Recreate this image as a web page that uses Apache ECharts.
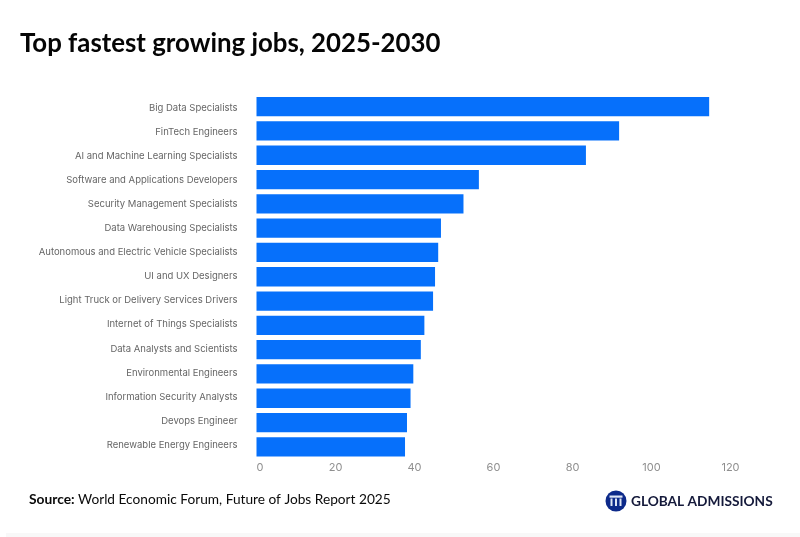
<!DOCTYPE html>
<html>
<head>
<meta charset="utf-8">
<style>
html, body { margin: 0; padding: 0; background: #fff; }
#chart { width: 800px; height: 537px; }
</style>
<script src="https://cdn.jsdelivr.net/npm/echarts@6/dist/echarts.min.js"></script>
</head>
<body>
<div id="chart"></div>
<script>
const jobs = [
    'Big Data Specialists', 'FinTech Engineers', 'AI and Machine Learning Specialists',
    'Software and Applications Developers', 'Security Management Specialists',
    'Data Warehousing Specialists', 'Autonomous and Electric Vehicle Specialists',
    'UI and UX Designers', 'Light Truck or Delivery Services Drivers',
    'Internet of Things Specialists', 'Data Analysts and Scientists',
    'Environmental Engineers', 'Information Security Analysts',
    'Devops Engineer', 'Renewable Energy Engineers'
];
const growth = [114.6, 91.8, 83.4, 56.3, 52.4, 46.7, 46, 45.2, 44.7, 42.5, 41.6, 39.7, 39, 38.1, 37.6];
const titleText = 'Top fastest growing jobs, 2025-2030';
const sourceLabel = 'Source:';
const sourceText = 'World Economic Forum, Future of Jobs Report 2025';
const brandText = 'GLOBAL ADMISSIONS';

const chart = echarts.init(document.getElementById('chart'), null, { renderer: 'canvas' });

chart.setOption({
    backgroundColor: '#fff',
    animation: false,
    grid: [
        { left: 256.5, top: 94.5, width: 474, height: 364.5 },
        // labels sit on a slightly tighter pitch than the bars in the reference
        { left: 256.5, top: 96, width: 474, height: 361 }
    ],
    xAxis: [
        {
            type: 'value', min: 0, max: 120, interval: 20,
            axisLine: { show: false }, axisTick: { show: false }, splitLine: { show: false },
            axisLabel: { color: '#8f8f8f', fontFamily: 'Inter', fontSize: 11, margin: 3, alignMinLabel: 'left' }
        },
        { type: 'value', gridIndex: 1, show: false }
    ],
    yAxis: [
        {
            type: 'category', inverse: true, data: jobs,
            axisLine: { show: false }, axisTick: { show: false }, axisLabel: { show: false }
        },
        {
            type: 'category', gridIndex: 1, inverse: true, data: jobs,
            axisLine: { show: false }, axisTick: { show: false },
            axisLabel: { color: '#666', fontFamily: 'Inter', fontSize: 9.5, margin: 19 }
        }
    ],
    series: [{
        type: 'bar', data: growth, barWidth: 19.3,
        itemStyle: { color: '#0670fb' }, silent: true
    }],
    graphic: [
        { type: 'text', left: 20, top: 31, style: { text: titleText, font: 'bold 25.8px Lato', fill: '#050505' } },
        { type: 'text', left: 29, top: 493, style: { text: sourceLabel, font: 'bold 13.8px Lato', fill: '#0a0a0a' } },
        { type: 'text', left: 78, top: 493, style: { text: sourceText, font: '13.7px Lato', fill: '#0a0a0a' } },
        // logo mark
        { type: 'circle', shape: { cx: 616, cy: 501, r: 10.5 }, style: { fill: '#0d2a8a' } },
        { type: 'rect', shape: { x: 609.5, y: 495.5, width: 13, height: 2.2 }, style: { fill: '#dfe6f5' } },
        { type: 'rect', shape: { x: 610.5, y: 498.5, width: 2, height: 7.5 }, style: { fill: '#dfe6f5' } },
        { type: 'rect', shape: { x: 615, y: 498.5, width: 2, height: 7.5 }, style: { fill: '#dfe6f5' } },
        { type: 'rect', shape: { x: 619.5, y: 498.5, width: 2, height: 7.5 }, style: { fill: '#dfe6f5' } },
        { type: 'text', left: 631, top: 494.5, style: { text: brandText, font: 'bold 13.7px Lato', fill: '#14193a' } },
        // faint edge at the bottom of the card
        { type: 'rect', shape: { x: 6, y: 533, width: 794, height: 4 }, style: { fill: '#f8f8f8' } }
    ]
});
</script>
</body>
</html>
